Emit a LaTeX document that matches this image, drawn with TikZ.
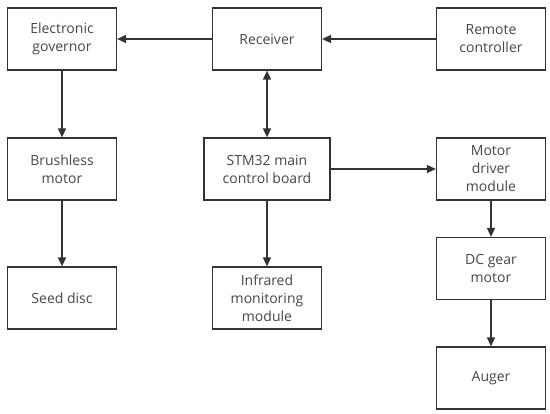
\documentclass[tikz,border=0pt]{standalone}
\usepackage{fontspec}
\setmainfont{Open Sans}
\usetikzlibrary{arrows.meta}

\tikzset{
  blockbox/.style={draw=black!80, line width=1.2pt, fill=white, minimum width=109pt,
    minimum height=62pt, align=center, inner sep=2pt, text=black!72,
    font=\fontsize{14}{18}\selectfont},
  link/.style={draw=black!80, line width=1.5pt, -{Triangle[length=9pt,width=8pt]}},
}

\begin{document}
\begin{tikzpicture}[x=1pt,y=-1pt]
  \useasboundingbox (0,0) rectangle (550,414);
  \node[blockbox] (gov) at (62,39) {Electronic\\governor};
  \node[blockbox] (brush) at (62,169) {Brushless\\motor};
  \node[blockbox] (seed) at (62,298) {Seed disc};
  \node[blockbox] (recv) at (267,39) {Receiver};
  \node[blockbox, minimum width=126pt] (stm) at (267,169) {STM32 main\\control board};
  \node[blockbox] (ir) at (267,298) {Infrared\\monitoring\\module};
  \node[blockbox] (remote) at (491,39) {Remote\\controller};
  \node[blockbox] (mdrv) at (491,169) {Motor\\driver\\module};
  \node[blockbox] (dc) at (491,268.5) {DC gear\\motor};
  \node[blockbox] (auger) at (491,378) {Auger};

  \draw[link] (remote) -- (recv);
  \draw[link] (recv) -- (gov);
  \draw[link, {Triangle[length=9pt,width=8pt]}-{Triangle[length=9pt,width=8pt]}] (recv) -- (stm);
  \draw[link] (gov) -- (brush);
  \draw[link] (brush) -- (seed);
  \draw[link] (stm) -- (ir);
  \draw[link] (stm) -- (mdrv);
  \draw[link] (mdrv) -- (dc);
  \draw[link] (dc) -- (auger);
\end{tikzpicture}
\end{document}
